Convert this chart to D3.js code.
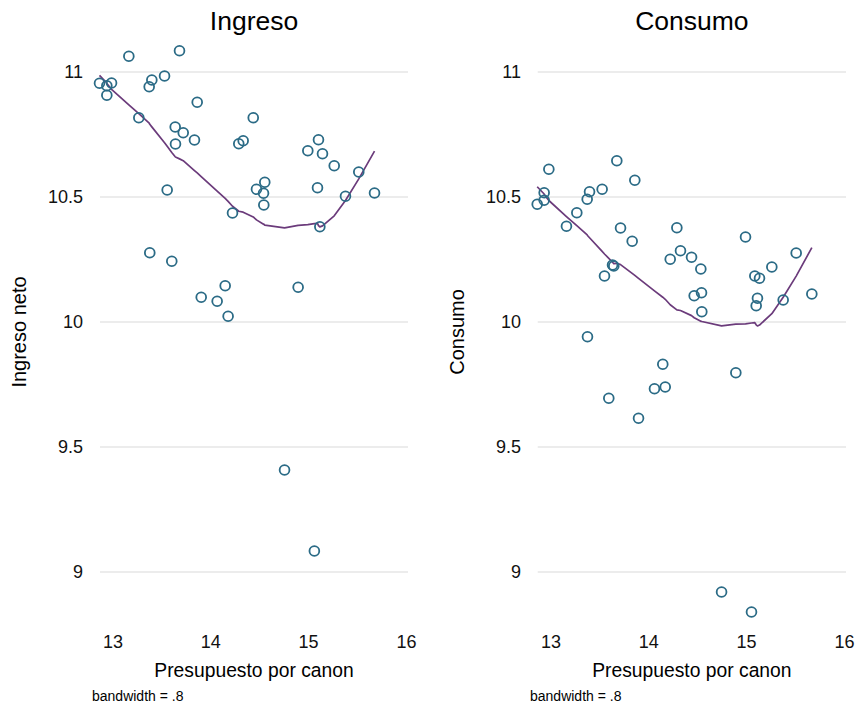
<!DOCTYPE html>
<html>
<head>
<meta charset="utf-8">
<script src="https://cdn.jsdelivr.net/npm/d3@7"></script>
<style>
  html, body { margin: 0; padding: 0; background: #fff; }
  svg { display: block; font-family: "Liberation Sans", Arial, sans-serif; }
</style>
</head>
<body>
<svg id="chart" width="857" height="707"></svg>
<script>
// ---- data ----
const panelTitles = ["Ingreso", "Consumo"];
const yAxisTitles = ["Ingreso neto", "Consumo"];
const xAxisTitle = "Presupuesto por canon";
const noteText = "bandwidth = .8";
const bandwidth = 0.8;
const xTicks = [13, 14, 15, 16];
const yTicks = [9, 9.5, 10, 10.5, 11];

const presupuestoIngreso = [12.862, 12.937, 12.985, 12.937, 13.162, 13.680, 13.397, 13.370, 13.527, 13.861,
  13.264, 13.636, 13.718, 13.639, 13.833, 14.434, 14.286, 14.331, 13.554, 14.467,
  14.552, 14.539, 14.542, 14.222, 14.992, 15.101, 15.142, 15.262, 15.091, 15.513,
  15.377, 15.674, 15.115, 13.376, 13.601, 13.902, 14.065, 14.147, 14.177, 14.893,
  14.754, 15.059];
const ingresoNeto = [10.955, 10.945, 10.956, 10.907, 11.063, 11.085, 10.968, 10.941, 10.984, 10.879,
  10.817, 10.780, 10.757, 10.712, 10.728, 10.817, 10.713, 10.725, 10.528, 10.531,
  10.559, 10.515, 10.468, 10.436, 10.685, 10.729, 10.673, 10.625, 10.537, 10.600,
  10.503, 10.516, 10.381, 10.277, 10.243, 10.099, 10.083, 10.145, 10.023, 10.139,
  9.408, 9.084];

const presupuestoConsumo = [12.859, 12.930, 12.930, 12.978, 13.158, 13.264, 13.370, 13.394, 13.523, 13.673,
  13.857, 13.711, 13.830, 13.629, 13.642, 13.547, 14.287, 14.324, 14.219, 14.437,
  14.532, 14.539, 14.464, 14.542, 14.989, 15.084, 15.132, 15.258, 15.507, 15.111,
  15.098, 15.374, 15.667, 13.373, 14.143, 14.058, 14.168, 13.591, 13.895, 14.890,
  14.744, 15.050];
const consumo = [10.471, 10.517, 10.487, 10.611, 10.383, 10.437, 10.491, 10.521, 10.531, 10.645,
  10.567, 10.376, 10.323, 10.228, 10.224, 10.184, 10.377, 10.285, 10.251, 10.259,
  10.212, 10.117, 10.105, 10.041, 10.340, 10.184, 10.175, 10.220, 10.276, 10.095,
  10.065, 10.088, 10.112, 9.941, 9.831, 9.733, 9.740, 9.695, 9.615, 9.797,
  8.920, 8.840];

// ---- Stata-style lowess (running-line, tricube weights) ----
function lowess(xs, ys, bw) {
  const pts = xs.map((x, i) => ({x, y: ys[i]})).sort((a, b) => a.x - b.x);
  const n = pts.length;
  const k = Math.floor((n * bw - 0.5) / 2);
  return pts.map((p, i) => {
    const lo = Math.max(0, i - k), hi = Math.min(n - 1, i + k);
    const delta = 1.0001 * Math.max(pts[hi].x - p.x, p.x - pts[lo].x);
    let sw = 0, sx = 0, sy = 0;
    const w = [];
    for (let j = lo; j <= hi; j++) {
      const u = Math.abs(pts[j].x - p.x) / delta;
      const wj = u < 1 ? Math.pow(1 - u * u * u, 3) : 0;
      w.push(wj); sw += wj; sx += wj * pts[j].x; sy += wj * pts[j].y;
    }
    const mx = sx / sw, my = sy / sw;
    let sxx = 0, sxy = 0;
    for (let j = lo; j <= hi; j++) {
      const wj = w[j - lo];
      sxx += wj * (pts[j].x - mx) ** 2;
      sxy += wj * (pts[j].x - mx) * (pts[j].y - my);
    }
    const b = sxx > 0 ? sxy / sxx : 0;
    return {x: p.x, y: my + b * (p.x - mx)};
  });
}

// ---- layout ----
const svg = d3.select("#chart");
const panels = [
  {xs: presupuestoIngreso, ys: ingresoNeto, off: 0},
  {xs: presupuestoConsumo, ys: consumo, off: 438}
];
const markerColor = "#2b6b86";
const lineColor = "#6b3b7b";
const textColor = "#111";

panels.forEach((p, idx) => {
  const g = svg.append("g").attr("transform", `translate(${p.off},0)`);
  const x = d3.scaleLinear().domain([13, 16]).range([113, 406.4]);
  const y = d3.scaleLinear().domain([9, 11]).range([572, 72]);
  const left = x(d3.min(p.xs)) + 0.5;
  const right = x(16) + 1.6;

  // grid
  g.selectAll("line.grid").data(yTicks).join("line")
    .attr("x1", left).attr("x2", right)
    .attr("y1", d => y(d)).attr("y2", d => y(d))
    .attr("stroke", "#d9d9d9").attr("stroke-width", 1.1);

  // y tick labels
  g.selectAll("text.ytick").data(yTicks).join("text")
    .attr("x", 83).attr("y", d => y(d)).attr("dy", "0.35em")
    .attr("text-anchor", "end").attr("font-size", 18).attr("fill", textColor)
    .text(d => d3.format("")(d));

  // x tick labels
  g.selectAll("text.xtick").data(xTicks).join("text")
    .attr("x", d => x(d)).attr("y", 648)
    .attr("text-anchor", "middle").attr("font-size", 18).attr("fill", textColor)
    .text(d => d);

  // lowess line
  const fit = lowess(p.xs, p.ys, bandwidth);
  g.append("path").datum(fit)
    .attr("d", d3.line().x(d => x(d.x)).y(d => y(d.y)))
    .attr("fill", "none").attr("stroke", lineColor).attr("stroke-width", 1.7)
    .attr("stroke-linejoin", "round");

  // markers
  g.selectAll("circle.pt").data(p.xs.map((v, i) => [v, p.ys[i]])).join("circle")
    .attr("cx", d => x(d[0])).attr("cy", d => y(d[1])).attr("r", 4.9)
    .attr("fill", "none").attr("stroke", markerColor).attr("stroke-width", 1.8);

  // title
  g.append("text").attr("x", (left + right) / 2).attr("y", 30)
    .attr("text-anchor", "middle").attr("font-size", 26.5).attr("fill", "#000")
    .text(panelTitles[idx]);

  // y axis title
  g.append("text").attr("transform", `translate(25.5,332) rotate(-90)`)
    .attr("text-anchor", "middle").attr("font-size", 20).attr("fill", "#000")
    .text(yAxisTitles[idx]);

  // x axis title
  g.append("text").attr("x", (left + right) / 2).attr("y", 677)
    .attr("text-anchor", "middle").attr("font-size", 19.3).attr("fill", "#000")
    .text(xAxisTitle);

  // note
  g.append("text").attr("x", 92).attr("y", 701)
    .attr("font-size", 14).attr("fill", "#000")
    .text(noteText);
});
</script>
</body>
</html>
